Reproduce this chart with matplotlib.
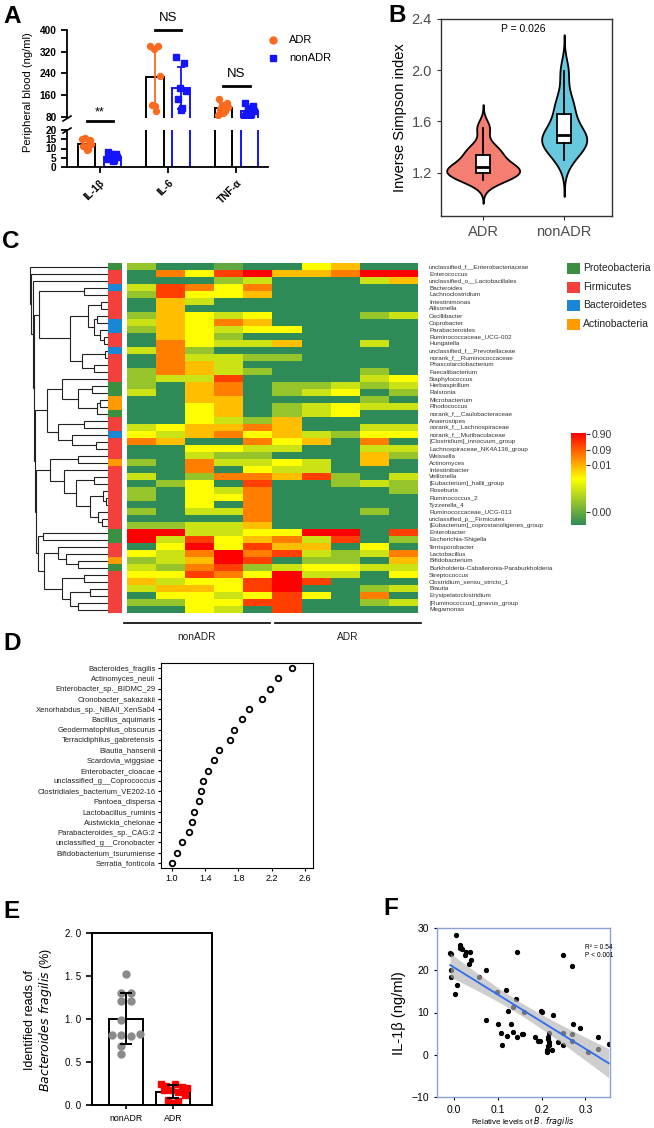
import numpy as np
import matplotlib
matplotlib.use("Agg")
import matplotlib.pyplot as plt
from matplotlib.colors import LinearSegmentedColormap, ListedColormap
from matplotlib.patches import Rectangle
from matplotlib.lines import Line2D

plt.rcParams['font.family'] = ['Liberation Sans', 'DejaVu Sans']

# ---------------- data ----------------
# A: cytokines in peripheral blood (ng/ml)
cytokines = ["IL-1β", "IL-6", "TNF-α"]
adr_cyto = [[15.2, 14.8, 15.8, 12.6, 11.2, 9.8, 9.4],
            [342, 340, 330, 230, 125, 100, 120],
            [145, 132, 125, 115, 108, 100, 95, 88]]
nonadr_cyto = [[8.0, 7.2, 7.0, 5.5, 4.8, 4.0, 3.0, 4.5],
               [302, 280, 186, 176, 146, 112, 105],
               [132, 122, 112, 100, 94, 90, 86, 82]]
cyto_signif = ["**", "NS", "NS"]

# B: inverse Simpson index
simpson_groups = ["ADR", "nonADR"]
simpson_adr = [1.14, 1.16, 1.19, 1.20, 1.23, 1.24, 1.25, 1.32, 1.36, 1.40, 1.55]
simpson_nonadr = [1.30, 1.38, 1.42, 1.44, 1.47, 1.49, 1.52, 1.62, 1.70, 1.78, 1.99]

# C: heatmap of genus abundance (colour level 0 = lowest .. 8 = highest)
genera = [
    "unclassified_f__Enterobacteriaceae", "Enterococcus", "unclassified_o__Lactobacillales",
    "Bacteroides", "Lachnoclostridium", "Intestinimonas", "Allisonella", "Oscillibacter",
    "Coprobacter", "Parabacteroides", "Ruminococcaceae_UCG-002", "Hungatella",
    "unclassified_f__Prevotellaceae", "norank_f__Ruminococcaceae", "Phascolarctobacterium",
    "Faecalibacterium", "Staphylococcus", "Herbaspirillum", "Ralstonia", "Microbacterium",
    "Rhodococcus", "norank_f__Caulobacteraceae", "Anaerostipes", "norank_f__Lachnospiraceae",
    "norank_f__Muribaculaceae", "[Clostridium]_innocuum_group", "Lachnospiraceae_NK4A136_group",
    "Weissella", "Actinomyces", "Intestinibacter", "Veillonella", "[Eubacterium]_hallii_group",
    "Roseburia", "Ruminococcus_2", "Tyzzerella_4", "Ruminococcaceae_UCG-013",
    "unclassified_p__Firmicutes", "[Eubacterium]_coprostanoligenes_group", "Enterobacter",
    "Escherichia-Shigella", "Terrisporobacter", "Lactobacillus", "Bifidobacterium",
    "Burkholderia-Caballeronia-Paraburkholderia", "Streptococcus", "Clostridium_sensu_stricto_1",
    "Blautia", "Erysipelatoclostridium", "[Ruminococcus]_gnavus_group", "Megamonas"]
heat_levels = [
    "2001004500", "0647855688", "0002300035", "3764600000", "2744500000",
    "0530000000", "0500000000", "2543400023", "3546500000", "2543440000",
    "0542000000", "0643350030", "3620000000", "0633220000", "0653000000",
    "2653200020", "2337000034", "2056022323", "3056023402", "0055000020",
    "0045023433", "0045023400", "0043250000", "3455650033", "4356453244",
    "6500645060", "0044330033", "0032200052", "2063343050", "0060433000",
    "3026657203", "0240700232", "2043600002", "2044600000", "0040600000",
    "2033600020", "0000600000", "2233500000", "8833448807", "8374563702",
    "0484755040", "4368673236", "2358702205", "3267234433", "4476483304",
    "5344787000", "3554780023", "0443474060", "2244770023", "0043070000"]
sample_groups = ["nonADR", "ADR"]
phyla = ["Proteobacteria", "Firmicutes", "Bacteroidetes", "Actinobacteria"]
phylum_colors = ["#3a8f40", "#f2403c", "#1a86d6", "#ff9a00"]
row_phylum = "PFFBFFFFBBFFBFFFFPPAAPFFBFFFAFFFFFFFFFPPFFAPFFFFFF"
cbar_labels = ["0.00", "0.01", "0.09", "0.90"]
cbar_levels = [0.14, 0.65, 0.815, 0.985]
# clustering tree: [left, right, height]
tree_A = [[3, 4, .30], [[[5, 6, .09], [[7, 8, .14], [9, [10, 11, .05], .10], .175], .25],
                        [[12, 13, .04], [14, 15, .17], .33], .475], .86]
tree_B = [16, [[17, 18, .20], [[19, 20, .10], 21, .14], .38], .58]
tree_C = [[22, 23, .30], [24, [25, 26, .15], .45], .63]
tree_D = [[27, 28, .38], [29, [[30, 31, .17], [[32, [33, 34, .02], .06],
                                              [35, [36, 37, .08], .12], .22], .40], .55], .72]
tree_E = [38, 39, .81]
tree_F = [[40, [41, [42, 43, .38], .52], .62],
          [[44, 45, .30], [[46, 47, .22], [48, 49, .38], .48], .58], .80]
tree = [0, [1, [2, [tree_A, [[tree_B, tree_C, .76], [tree_D, [tree_E, tree_F, .88], .90], .91],
                    .93], .94], .96], .98]

# D: LDA scores
lda_taxa = ["Bacteroides_fragilis", "Actinomyces_neuii", "Enterobacter_sp._BIDMC_29",
            "Cronobacter_sakazakii", "Xenorhabdus_sp._NBAII_XenSa04", "Bacillus_aquimaris",
            "Geodermatophilus_obscurus", "Terracidiphilus_gabretensis", "Blautia_hansenii",
            "Scardovia_wiggsiae", "Enterobacter_cloacae", "unclassified_g__Coprococcus",
            "Clostridiales_bacterium_VE202-16", "Pantoea_dispersa", "Lactobacillus_ruminis",
            "Austwickia_chelonae", "Parabacteroides_sp._CAG:2", "unclassified_g__Cronobacter",
            "Bifidobacterium_tsurumiense", "Serratia_fonticola"]
lda_scores = [2.45, 2.28, 2.18, 2.09, 1.93, 1.85, 1.75, 1.70, 1.57, 1.51,
              1.43, 1.38, 1.35, 1.32, 1.27, 1.24, 1.20, 1.12, 1.06, 1.00]

# E: B. fragilis reads (%)
bf_groups = ["nonADR", "ADR"]
bf_nonadr = [1.52, 1.30, 1.30, 1.21, 1.21, 0.99, 0.81, 0.81, 0.80, 0.82, 0.69, 0.59]
bf_adr = [0.25, 0.24, 0.22, 0.21, 0.20, 0.18, 0.17, 0.15, 0.12, 0.06, 0.05, 0.02]

# F: B. fragilis vs IL-1beta
rel_bf = [-0.008, -0.005, -0.006, -0.005, 0.005, 0.015, 0.017, 0.014, 0.019, 0.028, 0.025,
          0.038, 0.039, 0.036, 0.008, 0.002, 0.058, 0.073, 0.073, 0.098, 0.101, 0.108, 0.111,
          0.120, 0.123, 0.122, 0.131, 0.135, 0.141, 0.134, 0.145, 0.145, 0.155, 0.157, 0.161,
          0.186, 0.193, 0.197, 0.199, 0.200, 0.212, 0.213, 0.214, 0.217, 0.215, 0.214, 0.217,
          0.216, 0.225, 0.227, 0.237, 0.248, 0.249, 0.248, 0.270, 0.271, 0.270, 0.270, 0.288,
          0.307, 0.329, 0.329, 0.353]
il1b = [24.2, 23.9, 20.1, 18.4, 28.4, 25.9, 25.3, 25.2, 25.0, 24.4, 23.5, 24.4, 22.4, 21.5,
        16.4, 14.4, 18.3, 20.1, 8.2, 14.8, 7.3, 5.2, 2.2, 15.4, 10.4, 4.4, 7.3, 11.2, 13.3,
        5.3, 24.4, 4.3, 4.8, 5.0, 10.2, 4.2, 3.3, 3.2, 10.3, 10.1, 1.1, 0.7, 2.1, 2.2, 4.3,
        3.7, 5.1, 3.1, 1.1, 9.3, 3.0, 5.2, 23.5, 2.2, 21.1, 7.2, 5.0, 3.2, 6.3, 0.7, 4.1,
        1.3, 2.6]

# ---------------- figure ----------------
W, H = 654, 1128
fig = plt.figure(figsize=(W / 100, H / 100), dpi=100)


def px_axes(l, t, r, b):
    return fig.add_axes([l / W, 1 - b / H, (r - l) / W, (b - t) / H])


def fig_text(x, y, s, **kw):
    fig.text(x / W, 1 - y / H, s, **kw)


def fig_line(xs, ys, **kw):
    fig.add_artist(Line2D([x / W for x in xs], [1 - y / H for y in ys],
                          transform=fig.transFigure, **kw))


for lab, x, y in [("A", 3, 23), ("B", 388, 22), ("C", 2, 248), ("D", 3, 650),
                  ("E", 3, 918), ("F", 383, 915)]:
    fig_text(x, y, lab, fontsize=17.5, fontweight='bold', va='baseline')

# ---------------- panel A ----------------
orange, blue = "#fb6a1e", "#1414ff"
jit = [-0.07, 0.05, -0.02, 0.07, -0.05, 0.02, 0.0, -0.08, 0.08]
ax_hi = px_axes(67, 30, 268, 118)
ax_lo = px_axes(67, 130, 268, 167)
off, bw_ = 0.19, 0.25
for ax in (ax_hi, ax_lo):
    for i in range(len(cytokines)):
        for vals, sgn, edge, col, mk in [(adr_cyto[i], -1, "black", orange, "o"),
                                         (nonadr_cyto[i], 1, blue, blue, "s")]:
            x = i + sgn * off
            m, sd = np.mean(vals), np.std(vals, ddof=1)
            ax.bar(x, m, bw_, fill=False, edgecolor=edge, lw=1.4, zorder=2)
            ax.plot(x + np.array(jit[:len(vals)]), vals, mk, color=col, ms=4.3, zorder=3)
            ax.errorbar(x, m, yerr=sd, color=col, capsize=3, capthick=1.3, lw=1.3, zorder=4)
    ax.set_xlim(-0.475, 2.46)
    for s in ("top", "right"):
        ax.spines[s].set_visible(False)
    ax.spines["left"].set_linewidth(1.3)
    ax.spines["bottom"].set_linewidth(1.3)
    ax.tick_params(width=1.3, length=4)
ax_hi.set_ylim(76, 400)
ax_hi.set_yticks([80, 160, 240, 320, 400])
ax_hi.spines["bottom"].set_visible(False)
ax_hi.set_xticks([])
ax_lo.set_ylim(0, 20)
ax_lo.set_yticks([0, 5, 10, 15, 20])
ax_lo.set_xticks(range(len(cytokines)))
ax_lo.set_xticklabels(cytokines, rotation=45, ha='right', rotation_mode='anchor')
for ax in (ax_hi, ax_lo):
    for t in ax.get_yticklabels() + ax.get_xticklabels():
        t.set_fontweight('bold')
        t.set_fontsize(7.3)
# axis break marks
fig_line([63, 71], [121, 116], color="black", lw=1.2)
fig_line([63, 71], [133, 128], color="black", lw=1.2)
# significance
ax_lo.plot([-off, off], [25, 25], color="black", lw=2, clip_on=False)
ax_lo.text(0, 29.5, cyto_signif[0], ha='center', va='center', fontsize=9)
ax_hi.plot([1 - off, 1 + off], [400, 400], color="black", lw=2, clip_on=False)
ax_hi.text(1, 443, cyto_signif[1], ha='center', va='center', fontsize=9.5)
ax_hi.plot([2 - off, 2 + off], [194, 194], color="black", lw=2, clip_on=False)
ax_hi.text(2, 238, cyto_signif[2], ha='center', va='center', fontsize=9.5)
fig_text(28, 92, "Peripheral blood (ng/ml)", rotation=90, ha='center', va='center', fontsize=8)
# legend
fig.add_artist(Line2D([273 / W], [1 - 40 / H], marker='o', color=orange, ms=5,
                      transform=fig.transFigure))
fig.add_artist(Line2D([273 / W], [1 - 58 / H], marker='s', color=blue, ms=4.5,
                      transform=fig.transFigure))
fig_text(289, 40, "ADR", va='center', fontsize=8)
fig_text(289, 58, "nonADR", va='center', fontsize=8)

# ---------------- panel B ----------------
axB = px_axes(441, 19, 612, 216)


def nrd0(x):
    x = np.asarray(x)
    q75, q25 = np.percentile(x, [75, 25])
    return 0.9 * min(x.std(ddof=1), (q75 - q25) / 1.34) * len(x) ** -0.2


samples = [np.array(simpson_adr), np.array(simpson_nonadr)]
dens = []
for s in samples:
    bw = nrd0(s)
    g = np.linspace(s.min() - 3 * bw, s.max() + 3 * bw, 300)
    d = np.exp(-0.5 * ((g[:, None] - s[None, :]) / bw) ** 2).sum(1) / (len(s) * bw * np.sqrt(2 * np.pi))
    dens.append((g, d))
dmax = max(d.max() for g, d in dens)
for k, ((g, d), col) in enumerate(zip(dens, ["#F47E72", "#68C9DE"])):
    hw = 0.45 * d / dmax
    axB.fill_betweenx(g, k + 1 - hw, k + 1 + hw, facecolor=col, edgecolor="black", lw=1.3, zorder=2)
axB.boxplot(samples, positions=[1, 2], widths=0.18, patch_artist=True, showcaps=False,
            showfliers=False, manage_ticks=False, zorder=3,
            boxprops=dict(facecolor="white", edgecolor="black", lw=1.3),
            medianprops=dict(color="black", lw=2),
            whiskerprops=dict(color="black", lw=1.3))
axB.set_xlim(0.48, 2.59)
axB.set_ylim(0.86, 2.40)
axB.set_yticks([1.2, 1.6, 2.0, 2.4])
axB.set_yticklabels(["1.2", "1.6", "2.0", "2.4"])
axB.set_xticks([1, 2])
axB.set_xticklabels(simpson_groups)
axB.tick_params(labelsize=10.5, labelcolor="#4d4d4d", color="#333333", length=3)
for s in axB.spines.values():
    s.set_color("#333333")
    s.set_linewidth(1.0)
axB.set_ylabel("Inverse Simpson index", fontsize=10.5, labelpad=3)
axB.text(1.5, 2.32, "P = 0.026", ha='center', va='center', fontsize=7.5)

# ---------------- panel C ----------------
abund_cmap = LinearSegmentedColormap.from_list("abund", ["#2e8b57", "#ffff00", "#ff0000"])
mat = np.array([[int(c) for c in row] for row in heat_levels]) / 8.0
axH = px_axes(127, 263, 418, 613)
axH.imshow(mat, cmap=abund_cmap, vmin=0, vmax=1, aspect='auto', interpolation='nearest')
axH.set_xticks([])
axH.yaxis.tick_right()
axH.set_yticks(range(len(genera)))
axH.set_yticklabels(genera, fontsize=4.55, color="#333333")
axH.tick_params(axis='y', length=0, pad=8)
for s in axH.spines.values():
    s.set_visible(False)

keys = "PFBA"
axS = px_axes(108, 263, 122, 613)
axS.imshow(np.array([keys.index(c) for c in row_phylum])[:, None], cmap=ListedColormap(phylum_colors),
           vmin=-0.5, vmax=3.5, aspect='auto', interpolation='nearest')
axS.axis('off')

axT = px_axes(28, 263, 108, 613)


def draw_node(node):
    if isinstance(node, int):
        return node, 0.0
    left, right, h = node
    yl, hl = draw_node(left)
    yr, hr = draw_node(right)
    axT.plot([hl, h, h, hr], [yl, yl, yr, yr], color="#222222", lw=0.8, solid_joinstyle='miter')
    return (yl + yr) / 2, h


draw_node(tree)
axT.set_xlim(1.0, 0.0)
axT.set_ylim(len(genera) - 0.5, -0.5)
axT.axis('off')

# group bars
fig_line([124, 270], [623, 623], color="black", lw=1.2)
fig_line([275, 421], [623, 623], color="black", lw=1.2)
fig_text(197, 637, sample_groups[0], ha='center', va='center', fontsize=7.3, color="#222222")
fig_text(348, 637, sample_groups[1], ha='center', va='center', fontsize=7.3, color="#222222")

# phylum legend
for k, (name, col) in enumerate(zip(phyla, phylum_colors)):
    y = 263 + 18.5 * k
    fig.add_artist(Rectangle((567 / W, 1 - (y + 11) / H), 13 / W, 11 / H, facecolor=col,
                             edgecolor="none", transform=fig.transFigure))
    fig_text(583, y + 5.5, name, va='center', fontsize=7.5, color="#222222")

# colour bar
axCB = px_axes(571, 433, 586, 525)
axCB.imshow(np.linspace(0, 1, 256)[:, None], cmap=abund_cmap, aspect='auto', origin='lower',
            extent=[0, 1, 0, 1])
axCB.set_xticks([])
axCB.yaxis.tick_right()
axCB.set_yticks(cbar_levels)
axCB.set_yticklabels(cbar_labels)
axCB.tick_params(axis='y', length=3, labelsize=7.5, labelcolor="#333333", color="#333333", pad=1)
for s in axCB.spines.values():
    s.set_visible(False)

# ---------------- panel D ----------------
axD = px_axes(161, 663, 313, 868)
ypos = np.arange(len(lda_taxa))
axD.plot(lda_scores, ypos, 'o', mfc="white", mec="black", mew=1.3, ms=4.0)
axD.set_ylim(len(lda_taxa) - 0.5, -0.5)
axD.set_xlim(0.868, 2.70)
axD.set_yticks(ypos)
axD.set_yticklabels(lda_taxa, fontsize=5.5, color="#222222")
axD.set_xticks([1.0, 1.4, 1.8, 2.2, 2.6])
axD.set_xticklabels(["1.0", "1.4", "1.8", "2.2", "2.6"])
axD.tick_params(length=2.5, width=0.8, labelsize=5.5, pad=1.5)
axD.tick_params(axis='x', labelsize=6.5)
for s in axD.spines.values():
    s.set_linewidth(0.8)

# ---------------- panel E ----------------
axE = px_axes(92, 933, 212, 1105)
nonadr_off = [0, -0.11, 0.1, -0.11, 0.1, -0.11, -0.3, -0.11, 0.1, 0.3, -0.11, -0.11]
adr_off = [-0.25, 0.05, -0.15, 0.2, 0.3, -0.05, -0.2, 0.1, 0.25, -0.1, 0.1, 0.0]
for k, (vals, offs, col, mk) in enumerate([(bf_nonadr, nonadr_off, "#8a8a8a", "o"),
                                           (bf_adr, adr_off, "#ff0000", "s")]):
    m, sd = np.mean(vals), np.std(vals, ddof=1)
    axE.bar(k, m, 0.72, facecolor="white", edgecolor="black", lw=1.4, zorder=1)
    axE.plot(k + np.array(offs), vals, mk, color=col, ms=5, zorder=2)
    axE.errorbar(k, m, yerr=sd, color="black", capsize=4, capthick=1.4, lw=1.4, zorder=3)
axE.set_xlim(-0.72, 1.83)
axE.set_ylim(0, 2.0)
axE.set_yticks([0, 0.5, 1.0, 1.5, 2.0])
axE.set_yticklabels(["0. 0", "0. 5", "1. 0", "1. 5", "2. 0"])
axE.set_xticks([0, 1])
axE.set_xticklabels(bf_groups)
axE.tick_params(axis='y', labelsize=7, length=4, width=1.2)
axE.tick_params(axis='x', labelsize=6.3, length=3, width=1.2)
for s in axE.spines.values():
    s.set_linewidth(1.4)
fig_text(39, 1020, "Identified reads of\n$\\it{Bacteroides\\ fragilis}$ (%)", rotation=90,
         ha='center', va='center', fontsize=9, linespacing=1.1)

# ---------------- panel F ----------------
axF = px_axes(437, 928, 610, 1097)
fx, fy = np.array(rel_bf), np.array(il1b)
axF.plot(fx, fy, 'o', color="black", ms=2.8, zorder=2)
coef = np.polyfit(fx, fy, 1)
xs = np.linspace(fx.min(), fx.max(), 100)
yhat = np.polyval(coef, xs)
resid = fy - np.polyval(coef, fx)
s_err = np.sqrt((resid ** 2).sum() / (len(fx) - 2))
se = s_err * np.sqrt(1 / len(fx) + (xs - fx.mean()) ** 2 / ((fx - fx.mean()) ** 2).sum())
axF.fill_between(xs, yhat - 2.0 * se, yhat + 2.0 * se, color="#b4b4b4", alpha=0.65, lw=0, zorder=3)
axF.plot(xs, yhat, color="#2f6cf0", lw=1.3, zorder=4)
axF.set_xlim(-0.038, 0.356)
axF.set_ylim(-10, 30)
axF.set_xticks([0.0, 0.1, 0.2, 0.3])
axF.set_yticks([-10, 0, 10, 20, 30])
axF.set_yticklabels(["−10", "0", "10", "20", "30"])
axF.tick_params(labelsize=7.5, length=2.5, width=0.8)
for s in axF.spines.values():
    s.set_color("#8c9fd6")
    s.set_linewidth(1.0)
axF.text(0.30, 26.2, "R² = 0.54\nP < 0.001", fontsize=4.8, va='top', linespacing=1.1)
fig_text(399, 1013, "IL-1β (ng/ml)", rotation=90, ha='center', va='center', fontsize=10.5)
fig_text(523, 1121, "Relative levels of $\\it{B.\\ fragilis}$", ha='center', va='center', fontsize=5.8)

fig.savefig("out.png", dpi=100)
